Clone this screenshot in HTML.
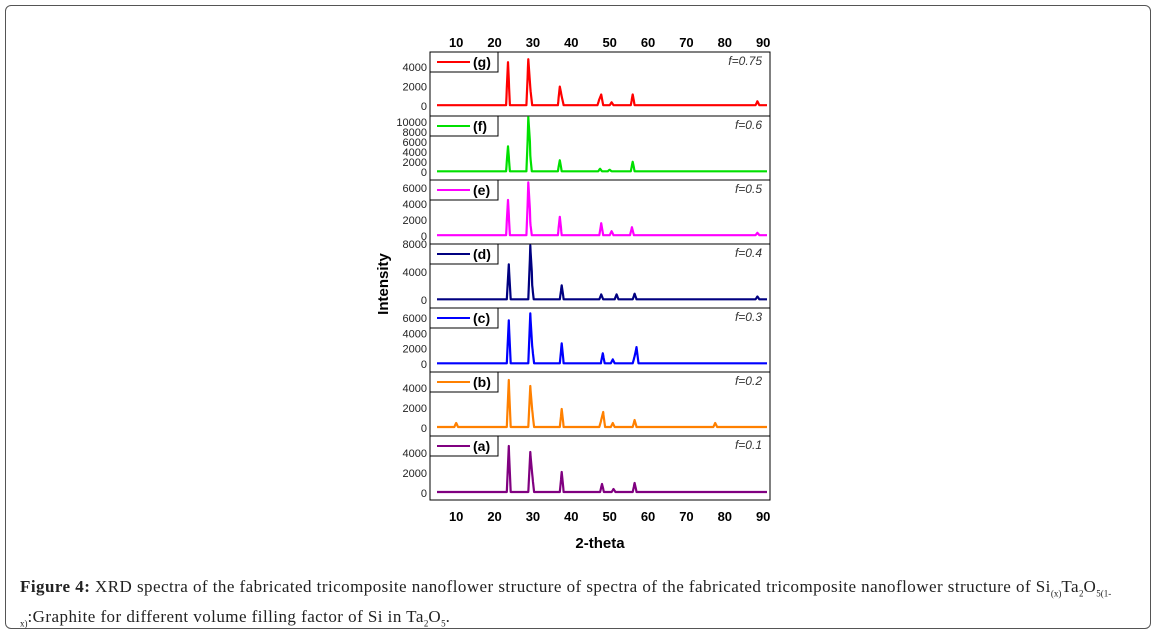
<!DOCTYPE html>
<html><head><meta charset="utf-8"><style>
body{margin:0;background:#fff;width:1156px;height:634px;overflow:hidden;position:relative;font-family:"Liberation Sans",sans-serif}
#frame{position:absolute;left:5px;top:5px;width:1144px;height:622px;border:1px solid #555;border-radius:6px}
#cap{position:absolute;left:20px;top:575px;width:1125px;font-family:"Liberation Serif",serif;font-size:17px;line-height:24px;color:#222;letter-spacing:0.45px;white-space:nowrap}
sub{font-size:9px;letter-spacing:0}
</style></head><body>
<div id="frame"></div>
<svg id="chart" width="1156" height="634" style="position:absolute;left:0;top:0"></svg>
<div id="cap"><b>Figure 4:</b> XRD spectra of the fabricated tricomposite nanoflower structure of spectra of the fabricated tricomposite nanoflower structure of Si<sub>(x)</sub>Ta<sub>2</sub>O<sub>5(1-</sub><br><sub>x)</sub>:Graphite for different volume filling factor of Si in Ta<sub>2</sub>O<sub>5</sub>.</div>
<script>
const xTicks=[10,20,30,40,50,60,70,80,90];
const names=["g","f","e","d","c","b","a"];
const fLabels=["f=0.75","f=0.6","f=0.5","f=0.4","f=0.3","f=0.2","f=0.1"];
const colors=["#ff0000","#00e000","#ff00ff","#000080","#0000ff","#ff8000","#800080"];
const yMins=[-1000,-1600,-1000,-1140,-1040,-800,-700];
const yMaxs=[5540,11200,7000,8000,7300,5600,5700];
const yTickSets=[[0,2000,4000],[0,2000,4000,6000,8000,10000],[0,2000,4000,6000],[0,4000,8000],[0,2000,4000,6000],[0,2000,4000],[0,2000,4000]];
const peakPos=[
[23.5,28.8,29.3,37,37.5,47.3,47.8,50.5,56,88.5],
[23.5,28.8,29.2,37,47.5,50,56],
[23.5,28.8,29.2,37,47.8,50.5,55.8,88.5],
[23.7,29.3,29.7,37.5,47.8,51.8,56.5,88.5],
[23.7,29.3,29.8,37.5,48.2,50.8,56.5,57],
[10,23.7,29.3,29.8,37.5,47.8,48.3,50.8,56.5,77.5],
[23.7,29.3,29.8,37.5,48,51,56.5]];
const peakInt=[
[4400,4700,1800,1900,900,600,1100,300,1100,400],
[5000,10000,4000,2200,500,300,1900],
[4400,6200,2000,2300,1500,500,1000,300],
[5000,7200,2500,2000,700,700,800,400],
[5600,6500,2200,2600,1300,500,900,2100],
[400,4700,4100,1700,1800,700,1500,400,700,400],
[4600,4000,1800,2000,800,300,900]];
const baseLevel=[100,150,100,100,100,100,100];

const svg=document.getElementById('chart');
const NS='http://www.w3.org/2000/svg';
function mk(t,a,txt){const e=document.createElementNS(NS,t);for(const k in a)e.setAttribute(k,a[k]);if(txt!==undefined)e.textContent=txt;svg.appendChild(e);return e;}
const L=430,R=770,T=52,PH=64;
const xs=v=>437+(v-5)*(307/80);
function ys(i,v){const top=T+i*PH;return top+PH-(v-yMins[i])/(yMaxs[i]-yMins[i])*PH;}

for(let i=0;i<names.length;i++){
  const top=T+i*PH;
  const r=mk('rect',{x:L,y:top,width:R-L,height:PH,fill:'none',stroke:'#000','stroke-width':1});
  
  
  let pts=[];
  for(let k=0;k<=860;k++){
    const x=5+k*0.1;let y=baseLevel[i];
    for(let j=0;j<peakPos[i].length;j++){const d=Math.abs(x-peakPos[i][j]);if(d<0.5)y+=peakInt[i][j]*(1-d/0.5);}
    pts.push(xs(x).toFixed(1)+','+ys(i,y).toFixed(1));
  }
  const p=mk('polyline',{points:pts.join(' '),fill:'none',stroke:colors[i],'stroke-width':2.2,'stroke-linejoin':'round'});
  
  
  yTickSets[i].forEach(v=>{
    const t=mk('text',{x:427,y:ys(i,v)+4,'text-anchor':'end','font-size':11,fill:'#222'},v);
    
    
  });
  const lb=mk('rect',{x:L,y:top,width:68,height:20,fill:'#fff',stroke:'#000','stroke-width':1});
  
  
  const ll=mk('line',{x1:437,x2:470,y1:top+10,y2:top+10,stroke:colors[i],'stroke-width':2});
  
  
  const lt=mk('text',{x:473,y:top+15,'font-size':14,'font-weight':'bold',fill:'#000'},'('+names[i]+')');
  
  
  const fl=mk('text',{x:762,y:top+13,'text-anchor':'end','font-size':12,'font-style':'italic',fill:'#333'},fLabels[i]);
  
  
}
xTicks.forEach(v=>{
  const a=mk('text',{x:xs(v),y:47,'text-anchor':'middle','font-size':13,'font-weight':'bold'},v);
  
  
  const b=mk('text',{x:xs(v),y:521,'text-anchor':'middle','font-size':13,'font-weight':'bold'},v);
  
  
});
const xt=mk('text',{x:600,y:548,'text-anchor':'middle','font-size':15,'font-weight':'bold'},'2-theta');


const yt=mk('text',{x:388,y:284,'text-anchor':'middle','font-size':15,'font-weight':'bold',transform:'rotate(-90 388 284)'},'Intensity');


</script>
</body></html>
